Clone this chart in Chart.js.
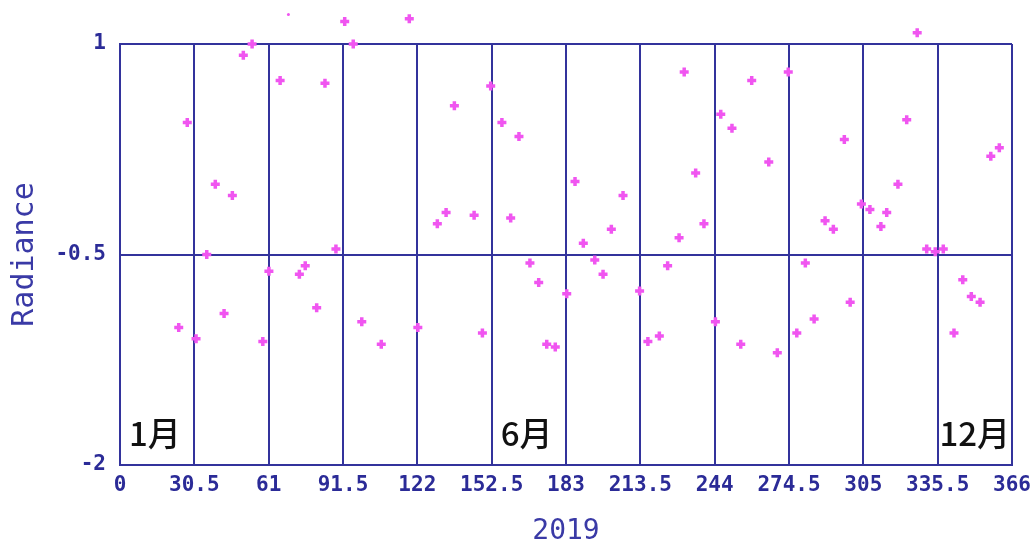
<!DOCTYPE html>
<html>
<head>
<meta charset="utf-8">
<script src="https://cdn.jsdelivr.net/npm/chart.js@4/dist/chart.umd.min.js"></script>
<style>
  html, body { margin: 0; padding: 0; background: #ffffff; }
  #wrap { width: 1031px; height: 546px; position: relative; }
</style>
</head>
<body>
<div id="wrap"><canvas id="c" width="1031" height="546"></canvas></div>
<script>
// ---- data ----
const xTickValues = [0, 30.5, 61, 91.5, 122, 152.5, 183, 213.5, 244, 274.5, 305, 335.5, 366];
const yTickValues = [-2, -0.5, 1];

const dayOfYear = [
  24.1, 27.6, 31.2, 35.6, 39.1, 42.7, 46.1, 50.6, 54.2, 58.6,
  61.1, 65.7, 73.6, 76.0, 80.7, 84.1, 88.6, 92.2, 95.7, 99.2,
  107.2, 118.7, 122.2, 130.2, 133.8, 137.2, 145.3, 148.7, 152.1, 156.7,
  160.3, 163.7, 168.2, 171.8, 175.1, 178.6, 183.3, 186.7, 190.1, 194.8,
  198.2, 201.6, 206.4, 213.2, 216.6, 221.3, 224.7, 229.4, 231.5, 236.2,
  239.6, 244.3, 246.5, 251.1, 254.7, 259.2, 266.2, 269.7, 274.2, 277.7,
  281.2, 284.8, 289.3, 292.7, 297.2, 299.6, 304.2, 307.7, 312.2, 314.6,
  319.2, 322.8, 327.1, 331.0, 334.5, 337.8, 342.2, 345.8, 349.3, 352.9,
  357.3, 360.8
];
const radiance = [
  -1.02, 0.44, -1.10, -0.50, 0.00, -0.92, -0.08, 0.92, 1.00, -1.12,
  -0.62, 0.74, -0.64, -0.58, -0.88, 0.72, -0.46, 1.16, 1.00, -0.98,
  -1.14, 1.18, -1.02, -0.28, -0.20, 0.56, -0.22, -1.06, 0.70, 0.44,
  -0.24, 0.34, -0.56, -0.70, -1.14, -1.16, -0.78, 0.02, -0.42, -0.54,
  -0.64, -0.32, -0.08, -0.76, -1.12, -1.08, -0.58, -0.38, 0.80, 0.08,
  -0.28, -0.98, 0.50, 0.40, -1.14, 0.74, 0.16, -1.20, 0.80, -1.06,
  -0.56, -0.96, -0.26, -0.32, 0.32, -0.84, -0.14, -0.18, -0.30, -0.20,
  0.00, 0.46, 1.08, -0.46, -0.48, -0.46, -1.06, -0.68, -0.80, -0.84,
  0.20, 0.26
];
// a faint, partly drawn point near the top
const faintDay = [69.1];
const faintRadiance = [1.21];

const monthLabels = ['1月', '6月', '12月'];
const monthAt = [0, 152.5, 335.5];

const xTitle = '2019';
const yTitle = 'Radiance';

// ---- styling ----
const NAVY = '#33339c';
const TICK = '#2b2b97';
const PINK = '#f055f0';

const toPoints = (xs, ys) => xs.map((x, i) => ({ x: x, y: ys[i] }));

// draw the points that lie above the plot frame (the library skips them otherwise)
const outsidePoints = {
  id: 'outsidePoints',
  afterDatasetDraw(chart, args) {
    const area = chart.chartArea;
    const full = { left: 0, top: 0, right: chart.width, bottom: chart.height };
    const ctx = chart.ctx;
    args.meta.data.forEach((el) => {
      const r = el.options.radius + el.options.borderWidth;
      if (el.y < area.top - r / 2 || el.y > area.bottom + r / 2) {
        el.draw(ctx, full);
      }
    });
  }
};

const monthPlugin = {
  id: 'monthLabels',
  afterDatasetsDraw(chart) {
    const { ctx, chartArea, scales } = chart;
    ctx.save();
    ctx.fillStyle = '#111111';
    ctx.font = '500 33px "Noto Sans CJK JP", "Noto Sans CJK SC", sans-serif';
    ctx.textBaseline = 'alphabetic';
    monthLabels.forEach((lab, i) => {
      let px = scales.x.getPixelForValue(monthAt[i]) + 9;
      const w = ctx.measureText(lab).width;
      if (px + w > chartArea.right - 2) px = chartArea.right - 2 - w;
      ctx.textAlign = 'left';
      ctx.fillText(lab, px, chartArea.bottom - 19);
    });
    ctx.restore();
  }
};

new Chart(document.getElementById('c'), {
  type: 'scatter',
  data: {
    datasets: [
      {
        label: 'Radiance',
        data: toPoints(dayOfYear, radiance),
        pointStyle: 'cross',
        pointRadius: 4.5,
        pointHoverRadius: 4.5,
        borderColor: PINK,
        backgroundColor: PINK,
        borderWidth: 3.5,
        clip: false
      },
      {
        label: 'faint',
        data: toPoints(faintDay, faintRadiance),
        pointStyle: 'circle',
        pointRadius: 1.5,
        borderColor: PINK,
        backgroundColor: PINK,
        borderWidth: 0,
        clip: false
      }
    ]
  },
  options: {
    responsive: false,
    animation: false,
    events: [],
    layout: { padding: { top: 44, right: 19, left: 0, bottom: 0 } },
    plugins: {
      legend: { display: false },
      tooltip: { enabled: false }
    },
    scales: {
      x: {
        type: 'linear',
        min: 0,
        max: 366,
        afterBuildTicks: (s) => { s.ticks = xTickValues.map(v => ({ value: v })); },
        afterFit: (s) => { s.height = 81; s.paddingLeft = 0; s.paddingRight = 0; },
        ticks: {
          autoSkip: false,
          maxRotation: 0,
          padding: 8,
          color: TICK,
          font: { family: '"DejaVu Sans Mono", monospace', size: 21, weight: 'bold' },
          callback: (v) => String(v)
        },
        grid: { color: NAVY, lineWidth: 2, drawTicks: false },
        border: { display: true, color: NAVY, width: 2 },
        title: {
          display: true,
          text: xTitle,
          color: '#3a3aa6',
          font: { family: '"DejaVu Sans Mono", monospace', size: 28, lineHeight: 1 },
          padding: { top: 0, bottom: 0 }
        }
      },
      y: {
        type: 'linear',
        min: -2,
        max: 1,
        afterBuildTicks: (s) => { s.ticks = yTickValues.map(v => ({ value: v })); },
        afterFit: (s) => { s.width = 120; s.paddingTop = 0; s.paddingBottom = 0; },
        ticks: {
          padding: 14,
          color: TICK,
          font: { family: '"DejaVu Sans Mono", monospace', size: 21, weight: 'bold' },
          callback: (v) => String(v)
        },
        grid: { color: NAVY, lineWidth: 2, drawTicks: false },
        border: { display: true, color: NAVY, width: 2 },
        title: {
          display: true,
          text: yTitle,
          color: '#3a3aa6',
          font: { family: '"DejaVu Sans Mono", monospace', size: 30 },
          padding: { top: 7, bottom: 0 }
        }
      }
    }
  },
  plugins: [outsidePoints, monthPlugin]
});
</script>
</body>
</html>
